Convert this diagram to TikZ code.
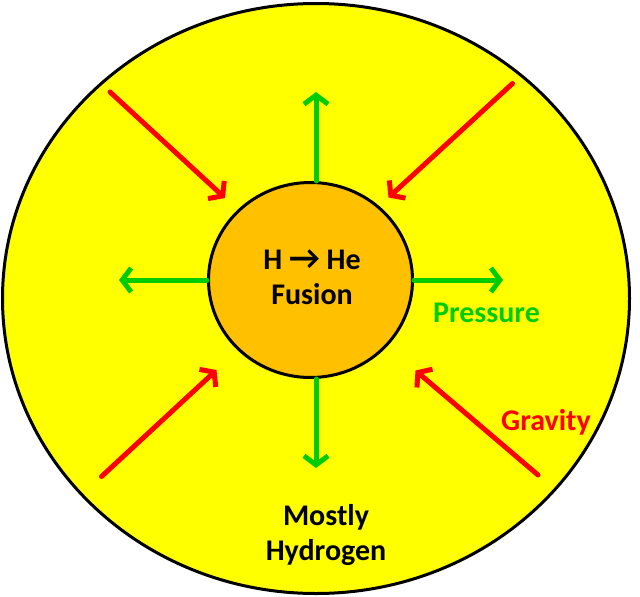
\documentclass[tikz,border=0pt]{standalone}
\usepackage{fontspec}
\setmainfont{Carlito}
\usetikzlibrary{arrows.meta,shapes.geometric}
\definecolor{staryellow}{RGB}{255,255,0}
\definecolor{coreorange}{RGB}{255,192,0}
\definecolor{pushgreen}{RGB}{0,204,0}
\definecolor{pullred}{RGB}{255,0,0}
\tikzset{
  push/.style={-{Straight Barb[length=9pt,width=24pt]}, line width=5pt, pushgreen, line cap=round, line join=round},
  pull/.style={-{Straight Barb[length=9pt,width=24pt]}, line width=5pt, pullred, line cap=round, line join=round},
  lbl/.style={font=\fontsize{30}{35}\selectfont\bfseries, align=center, inner sep=0pt},
}
\begin{document}
\begin{tikzpicture}[x=1pt, y=-1pt]
        \useasboundingbox (0,0) rectangle (640,597);
        % The star and its core
        \node[ellipse, draw, line width=3pt, fill=staryellow, minimum width=627pt, minimum height=590pt, inner sep=0pt] (star) at (316,298.5) {};
        \node[ellipse, draw, line width=3pt, fill=coreorange, minimum width=204pt, minimum height=195pt, inner sep=0pt] (core) at (310.5,280) {};
        \node[lbl, anchor=base] (fusion) at (312,304) {H {\fontsize{34}{35}\selectfont →} He\\Fusion};

        % Pressure pushing outward (green)
        \coordinate (pn) at (316,92);
        \coordinate (ps) at (316,468);
        \coordinate (pw) at (119,280);
        \coordinate (pe) at (503,280);
        \draw[push] ([xshift=5.5pt]core.north) -- (pn);
        \draw[push] ([xshift=5.5pt]core.south) -- (ps);
        \draw[push] (core.west) -- (pw);
        \draw[push] (core.east) -- (pe);
        \node[lbl, pushgreen, anchor=base] (pressure) at (486.5,322.5) {Pressure};

        % Gravity pulling inward (red)
        \coordinate (gnw) at (110,92);
        \coordinate (gnwtip) at (225,198);
        \coordinate (gne) at (512.5,83.5);
        \coordinate (gnetip) at (388.5,197.5);
        \coordinate (gsw) at (101.5,476.5);
        \coordinate (gswtip) at (216.5,370);
        \coordinate (gse) at (538,475);
        \coordinate (gsetip) at (415.5,370.5);
        \draw[pull] (gnw) -- (gnwtip);
        \draw[pull] (gne) -- (gnetip);
        \draw[pull] (gsw) -- (gswtip);
        \draw[pull] (gse) -- (gsetip);
        \node[lbl, pullred, anchor=base] (gravity) at (546,430) {Gravity};

        % What the star is made of
        \node[lbl, anchor=base] (mostly) at (326,560) {Mostly\\Hydrogen};
    \end{tikzpicture}
\end{document}
